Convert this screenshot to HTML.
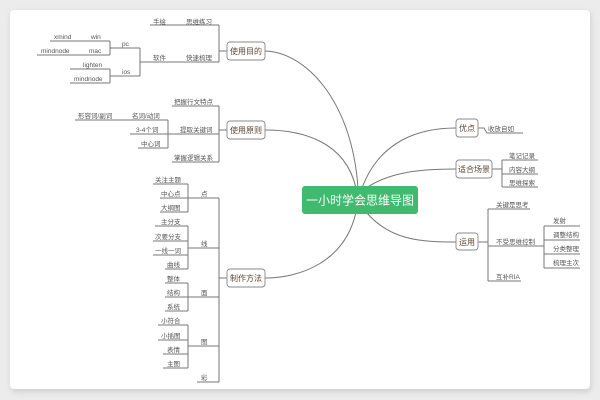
<!DOCTYPE html>
<html><head><meta charset="utf-8"><style>
html,body{margin:0;padding:0;background:#ececec;}
svg{display:block;}
text{font-family:"Liberation Sans","Noto Sans CJK SC",sans-serif;}
.l{font-size:6.5px;fill:#555;}
.b{font-size:8px;fill:#5a4632;}
</style></head><body>
<svg width="600" height="400" viewBox="0 0 600 400" xmlns="http://www.w3.org/2000/svg">
<defs><filter id="sh" x="-5%" y="-5%" width="110%" height="110%"><feGaussianBlur stdDeviation="3"/></filter></defs>
<rect x="11" y="12" width="580" height="380" rx="4" fill="#cfcfcf" filter="url(#sh)"/>
<rect x="10" y="10" width="580" height="379" rx="4" fill="#fff"/>
<g fill="none" stroke="#777" stroke-width="1">
<path d="M358 188 C352 100 305 52 265 51"/>
<path d="M356 188 C345 140 300 130 265 130"/>
<path d="M356 212 C345 262 300 278 265 278"/>
<path d="M362 188 C380 140 420 128 456 128"/>
<path d="M366 188 C390 172 420 169 456 169"/>
<path d="M366 212 C390 240 420 242 456 242"/>
<path d="M227 51 H219 M219 25 V62 M150 25 H219 M140 62 H219"/>
<path d="M110 48 H140 M110 76 H140 M140 48 V76"/>
<path d="M50 41 H110 M37 55 H110 M110 41 V55"/>
<path d="M70 69 H110 M70 83 H110 M110 69 V83"/>
<path d="M227 130 H219 M219 106 V162 M172 106 H219 M172 134 H219 M172 162 H219"/>
<path d="M75 120 H168 M130 134 H168 M138 148 H168 M168 120 V148 M168 134 H172"/>
<path d="M227 278 H219 M219 198 V382"/>
<path d="M188 198 H219 M188 248 H219 M188 297 H219 M188 346 H219 M197 382 H219"/>
<path d="M153 184 H188 M160 198 H188 M160 212 H188 M188 184 V212"/>
<path d="M155 226 H188 M153 241 H188 M153 255 H188 M165 269 H188 M188 226 V269"/>
<path d="M165 283 H188 M165 297 H188 M165 311 H188 M188 283 V311"/>
<path d="M158 325 H188 M158 340 H188 M163 354 H188 M163 368 H188 M188 325 V368"/>
<path d="M478 128 H484 L487 133 H523"/>
<path d="M492 169 H502 M502 160 V187 M502 160 H538 M502 174 H538 M502 187 H538"/>
<path d="M478 242 H488 M488 209 V281 M488 209 H530 M488 246 H544 M488 281 H521"/>
<path d="M544 226 V268 M544 226 H580 M544 240 H580 M544 254 H580 M544 268 H580"/>
</g>
<g fill="#fff" stroke="#888" stroke-width="0.9">
<rect x="227" y="42" width="38" height="18" rx="3"/>
<rect x="227" y="121" width="38" height="18" rx="3"/>
<rect x="227" y="269" width="38" height="18" rx="3"/>
<rect x="456" y="119" width="22" height="18" rx="3"/>
<rect x="456" y="160" width="36" height="18" rx="3"/>
<rect x="456" y="233" width="22" height="17" rx="3"/>
</g>
<rect x="302" y="186" width="116" height="28" rx="3" fill="#3fba6e"/>
<text x="360" y="204.5" text-anchor="middle" font-size="12" fill="#fff">一小时学会思维导图</text>
<g class="b" text-anchor="middle">
<text x="246" y="54">使用目的</text><text x="246" y="133">使用原则</text><text x="246" y="281">制作方法</text>
<text x="467" y="131">优点</text><text x="474" y="172">适合场景</text><text x="467" y="245">运用</text>
</g>
<g class="l">
<text x="153" y="24">手绘</text><text x="186" y="24">思维练习</text>
<text x="153" y="60">软件</text><text x="186" y="60">快速梳理</text>
<text x="122" y="46">pc</text><text x="122" y="74">ios</text>
<text x="54" y="39">xmind</text><text x="91" y="39">win</text>
<text x="41" y="53">mindnode</text><text x="89" y="53">mac</text>
<text x="83" y="67">lighten</text><text x="74" y="81">mindnode</text>
<text x="174" y="104">把握行文特点</text><text x="180" y="132">提取关键词</text><text x="174" y="160">掌握逻辑关系</text>
<text x="78" y="118">形容词/副词</text><text x="132" y="118">名词/动词</text>
<text x="136" y="132">3-4个词</text><text x="141" y="146">中心词</text>
<text x="155" y="182">关注主题</text><text x="161" y="196">中心点</text><text x="161" y="210">大纲图</text>
<text x="201" y="196">点</text><text x="201" y="246">线</text><text x="201" y="295">面</text><text x="201" y="344">图</text><text x="201" y="380">彩</text>
<text x="161" y="224">主分支</text><text x="155" y="239">次要分支</text><text x="155" y="253">一线一词</text><text x="167" y="267">曲线</text>
<text x="167" y="281">整体</text><text x="167" y="295">结构</text><text x="167" y="309">系统</text>
<text x="161" y="323">小符合</text><text x="161" y="338">小插图</text><text x="167" y="352">表情</text><text x="167" y="366">主图</text>
<text x="488" y="131">收放自如</text>
<text x="509" y="158">笔记记录</text><text x="509" y="172">内容大纲</text><text x="509" y="185">思维探索</text>
<text x="496" y="207">关键是思考</text><text x="496" y="244">不受思维控制</text><text x="496" y="279">互补RIA</text>
<text x="553" y="223">发射</text><text x="553" y="237">调整结构</text><text x="553" y="251">分类整理</text><text x="553" y="265">梳理主次</text>
</g>
</svg>
</body></html>
